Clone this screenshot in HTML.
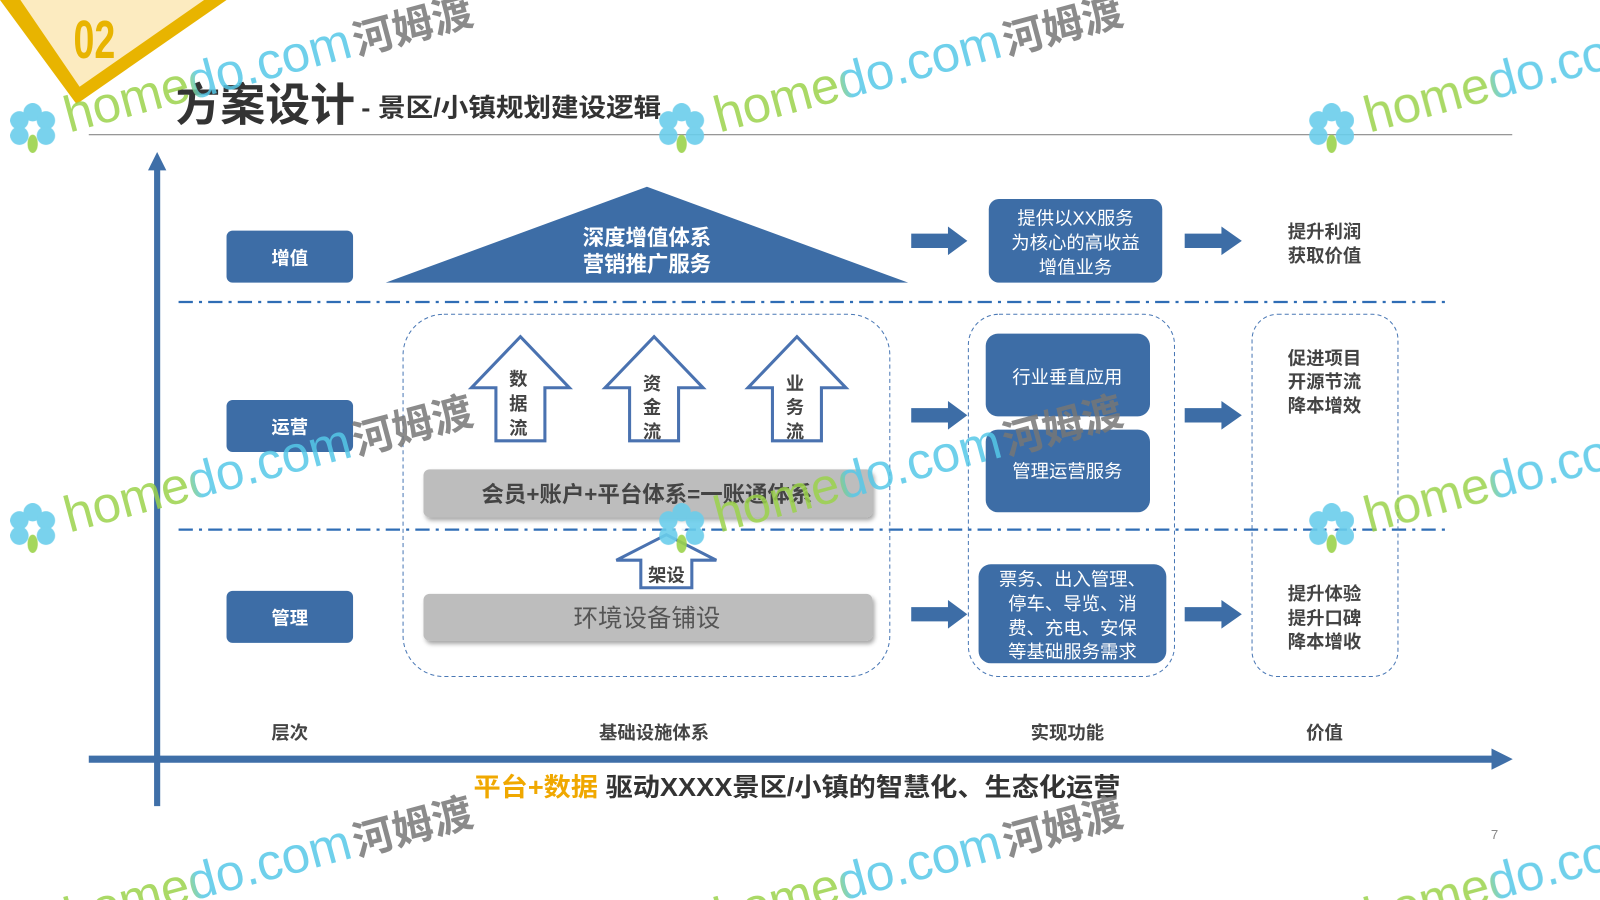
<!DOCTYPE html>
<html><head><meta charset="utf-8"><style>html,body{margin:0;padding:0;background:#fff;overflow:hidden}svg{display:block}</style></head>
<body>
<svg width="1600" height="900" viewBox="0 0 1568 882" preserveAspectRatio="none" xmlns="http://www.w3.org/2000/svg" font-family="'Liberation Sans','Noto Sans CJK SC',sans-serif">
<defs>
<marker id="ah" viewBox="0 0 10 10" refX="5" refY="5" markerWidth="3" markerHeight="3" orient="auto"><path d="M0,0L10,5L0,10z" fill="#3F6FA8"/></marker>
<linearGradient id="wm" x1="0" x2="1"><stop offset="0" stop-color="#9BD34B"/><stop offset="0.42" stop-color="#9BD34B"/><stop offset="0.47" stop-color="#55C8E8"/><stop offset="1" stop-color="#55C8E8"/></linearGradient>
<filter id="sh" x="-5%" y="-20%" width="110%" height="150%"><feDropShadow dx="2" dy="3" stdDeviation="2" flood-color="#000" flood-opacity="0.35"/></filter>
<g id="fl"><g fill="#6ACDEB"><circle cx="0" cy="-15" r="9"/><circle cx="13" cy="-7" r="9"/><circle cx="13" cy="8" r="9"/><circle cx="-13" cy="-7" r="9"/><circle cx="-13" cy="8" r="9"/></g><ellipse cx="0" cy="16" rx="5" ry="9" fill="#9BD34B"/><circle r="4" fill="#fff"/></g>
</defs>
<polygon points="0,0 222,0 75,102" fill="#E8B400"/>
<polygon points="20,0 200,0 78,85" fill="#FCEBC0"/>
<text x="72" y="57" font-size="46" font-weight="bold" fill="#E8B400" transform="translate(72,57) scale(0.8,1.15) translate(-72,-57)">02</text>
<text x="172" y="118" font-size="44" font-weight="bold" fill="#333">方案设计</text>
<text x="354" y="114" font-size="25" font-weight="bold" fill="#333" textLength="294" lengthAdjust="spacingAndGlyphs">- 景区/小镇规划建设逻辑</text>
<line x1="87" y1="132" x2="1482" y2="132" stroke="#888" stroke-width="1.2"/>
<line x1="154" y1="790" x2="154" y2="158" stroke="#3F6FA8" stroke-width="6" marker-end="url(#ah)"/>
<line x1="87" y1="744" x2="1472" y2="744" stroke="#3F6FA8" stroke-width="7" marker-end="url(#ah)"/>
<line x1="175" y1="296" x2="1420" y2="296" stroke="#2F6DB5" stroke-width="2.2" stroke-dasharray="14,6,3,6"/>
<line x1="175" y1="519" x2="1420" y2="519" stroke="#2F6DB5" stroke-width="2.2" stroke-dasharray="14,6,3,6"/>
<g font-size="18" font-weight="bold" fill="#fff" text-anchor="middle">
<rect x="222" y="226" width="124" height="51" rx="6" fill="#3D6DA6"/><text x="284" y="259">增值</text>
<rect x="222" y="392" width="124" height="51" rx="6" fill="#3D6DA6"/><text x="284" y="425">运营</text>
<rect x="222" y="579" width="124" height="51" rx="6" fill="#3D6DA6"/><text x="284" y="612">管理</text>
</g>
<polygon points="378,277 634,183 890,277" fill="#3D6DA6"/>
<text x="634" y="240" font-size="21" font-weight="bold" fill="#fff" text-anchor="middle">深度增值体系</text>
<text x="634" y="266" font-size="21" font-weight="bold" fill="#fff" text-anchor="middle">营销推广服务</text>
<rect x="395" y="308" width="477" height="355" rx="40" fill="none" stroke="#4A78B5" stroke-width="1" stroke-dasharray="4,3"/>
<rect x="949" y="308" width="202" height="355" rx="30" fill="none" stroke="#4A78B5" stroke-width="1" stroke-dasharray="4,3"/>
<rect x="1227" y="308" width="143" height="355" rx="25" fill="none" stroke="#4A78B5" stroke-width="1" stroke-dasharray="4,3"/>
<g fill="#fff" stroke="#4A72B0" stroke-width="3">
<polygon points="510,330 558,380 534,380 534,432 486,432 486,380 462,380"/>
<polygon points="641,330 689,380 665,380 665,432 617,432 617,380 593,380"/>
<polygon points="781,330 829,380 805,380 805,432 757,432 757,380 733,380"/>
<polygon points="653,524 702,549 678,549 678,576 628,576 628,549 604,549"/>
</g>
<g font-size="18" font-weight="bold" fill="#444" text-anchor="middle">
<text x="508" y="378">数</text><text x="508" y="402">据</text><text x="508" y="426">流</text>
<text x="639" y="382">资</text><text x="639" y="405">金</text><text x="639" y="429">流</text>
<text x="779" y="382">业</text><text x="779" y="405">务</text><text x="779" y="429">流</text>
<text x="653" y="570">架设</text>
</g>
<rect x="415" y="460" width="440" height="47" rx="6" fill="#BDBDBD" filter="url(#sh)"/>
<text x="634" y="492" font-size="22" font-weight="bold" fill="#444" text-anchor="middle">会员+账户+平台体系=一账通体系</text>
<rect x="415" y="582" width="440" height="46" rx="6" fill="#BDBDBD" filter="url(#sh)"/>
<text x="634" y="614" font-size="24" fill="#555" text-anchor="middle">环境设备铺设</text>
<g fill="#3D6DA6">
<rect x="969" y="195" width="170" height="82" rx="10"/>
<rect x="966" y="327" width="161" height="81" rx="12"/>
<rect x="966" y="421" width="161" height="81" rx="12"/>
<rect x="959" y="553" width="184" height="97" rx="12"/>
</g>
<g font-size="18" fill="#fff" text-anchor="middle">
<text x="1054" y="220">提供以XX服务</text><text x="1054" y="244">为核心的高收益</text><text x="1054" y="268">增值业务</text>
<text x="1046" y="376">行业垂直应用</text>
<text x="1046" y="468">管理运营服务</text>
<text x="1051" y="574">票务、出入管理、</text><text x="1051" y="598">停车、导览、消</text><text x="1051" y="622">费、充电、安保</text><text x="1051" y="645">等基础服务需求</text>
</g>
<g fill="#3D6DA6">
<polygon points="893,229 929,229 929,222 948,236 929,250 929,243 893,243"/>
<polygon points="893,400 929,400 929,393 948,407 929,421 929,414 893,414"/>
<polygon points="893,595 929,595 929,588 948,602 929,616 929,609 893,609"/>
<polygon points="1161,229 1197,229 1197,222 1217,236 1197,250 1197,243 1161,243"/>
<polygon points="1161,400 1197,400 1197,393 1217,407 1197,421 1197,414 1161,414"/>
<polygon points="1161,595 1197,595 1197,588 1217,602 1197,616 1197,609 1161,609"/>
</g>
<g font-size="18" font-weight="bold" fill="#444" text-anchor="middle">
<text x="1298" y="233">提升利润</text><text x="1298" y="257">获取价值</text>
<text x="1298" y="357">促进项目</text><text x="1298" y="380">开源节流</text><text x="1298" y="404">降本增效</text>
<text x="1298" y="588">提升体验</text><text x="1298" y="612">提升口碑</text><text x="1298" y="635">降本增收</text>
<text x="284" y="724">层次</text><text x="641" y="724">基础设施体系</text><text x="1046" y="724">实现功能</text><text x="1298" y="724">价值</text>
</g>
<text x="464" y="780" font-size="25" font-weight="bold" fill="#F0A800" textLength="634" lengthAdjust="spacingAndGlyphs">平台+数据<tspan fill="#333"> 驱动XXXX景区/小镇的智慧化、生态化运营</tspan></text>
<text x="1461" y="822" font-size="13" fill="#888">7</text>
<g opacity="0.85" font-size="50">
<g transform="translate(68,130) rotate(-15)"><text fill="url(#wm)">homedo.com</text><text x="292" font-weight="bold" fill="#777" font-size="40">河姆渡</text></g>
<g transform="translate(705,130) rotate(-15)"><text fill="url(#wm)">homedo.com</text><text x="292" font-weight="bold" fill="#777" font-size="40">河姆渡</text></g>
<g transform="translate(1342,130) rotate(-15)"><text fill="url(#wm)">homedo.com</text></g>
<g transform="translate(68,522) rotate(-15)"><text fill="url(#wm)">homedo.com</text><text x="292" font-weight="bold" fill="#777" font-size="40">河姆渡</text></g>
<g transform="translate(705,522) rotate(-15)"><text fill="url(#wm)">homedo.com</text><text x="292" font-weight="bold" fill="#777" font-size="40">河姆渡</text></g>
<g transform="translate(1342,522) rotate(-15)"><text fill="url(#wm)">homedo.com</text></g>
<g transform="translate(68,915) rotate(-15)"><text fill="url(#wm)">homedo.com</text><text x="292" font-weight="bold" fill="#777" font-size="40">河姆渡</text></g>
<g transform="translate(705,915) rotate(-15)"><text fill="url(#wm)">homedo.com</text><text x="292" font-weight="bold" fill="#777" font-size="40">河姆渡</text></g>
<g transform="translate(1342,915) rotate(-15)"><text fill="url(#wm)">homedo.com</text></g>
</g>
<g opacity="0.9">
<use href="#fl" x="32" y="125"/><use href="#fl" x="668" y="125"/><use href="#fl" x="1305" y="125"/>
<use href="#fl" x="32" y="517"/><use href="#fl" x="668" y="517"/><use href="#fl" x="1305" y="517"/>
</g>
</svg>
</body></html>
